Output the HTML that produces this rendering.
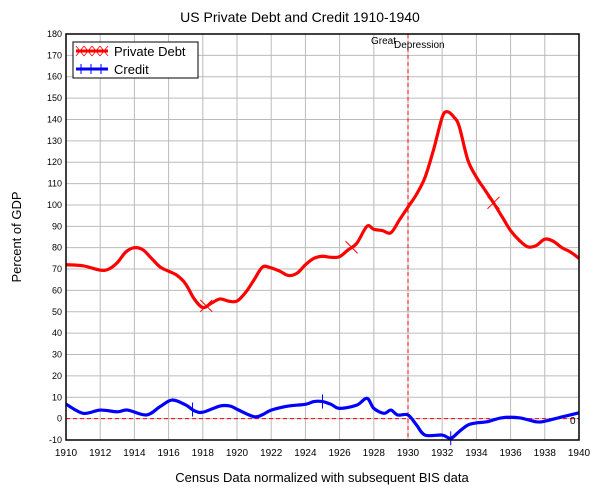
<!DOCTYPE html>
<html><head><meta charset="utf-8"><style>
body{margin:0;background:#fff;font-family:"Liberation Sans",sans-serif}
svg text{font-family:"Liberation Sans",sans-serif}
</style></head><body>
<svg id="chart" width="602" height="487" xmlns="http://www.w3.org/2000/svg">
<text x="300" y="22" text-anchor="middle" font-size="14">US Private Debt and Credit 1910-1940</text>
<text transform="translate(21,237) rotate(-90)" text-anchor="middle" font-size="13">Percent of GDP</text>
<text x="322" y="482" text-anchor="middle" font-size="13">Census Data normalized with subsequent BIS data</text>
<g id="grid"></g>
<g id="ticks"></g>
<g id="series"></g>
<text x="371" y="44" font-size="10">Great</text>
<text x="394" y="48" font-size="10">Depression</text>
<text x="570" y="424" font-size="10">0</text>
<rect x="66" y="34" width="513" height="406" fill="none" stroke="#000" stroke-width="1.5"/>
<g>
<rect x="73" y="42" width="125" height="36" fill="#fff" stroke="#000"/>
<g>
<line x1="76" y1="51" x2="108" y2="51" stroke="#f00" stroke-width="3"/>
<path d="M76,46l8,10M84,46l-8,10M84,46l8,10M92,46l-8,10M92,46l8,10M100,46l-8,10M100,46l8,10M108,46l-8,10" stroke="#f00" stroke-width="0.8"/>
<text x="114" y="56" font-size="13">Private Debt</text></g>
<g>
<line x1="76" y1="69" x2="108" y2="69" stroke="#00f" stroke-width="3"/>
<path d="M81,64v10M91,64v10M101,64v10" stroke="#00f" stroke-width="1"/>
<text x="114" y="74" font-size="13">Credit</text></g>
</g>
</svg>
<script>
const debtYears=[1910,1911,1912,1912.5,1913,1913.5,1914,1914.5,1915,1915.5,1916,1916.5,1917,1917.5,1918,1918.5,1919,1919.5,1920,1920.5,1921,1921.5,1922,1922.5,1923,1923.5,1924,1924.5,1925,1925.5,1926,1926.5,1927,1927.6,1928,1928.5,1929,1929.5,1930,1930.5,1931,1931.5,1932,1932.3,1932.7,1933,1933.5,1934,1934.5,1935,1935.5,1936,1936.5,1937,1937.5,1938,1938.5,1939,1939.5,1940];
const debtValues=[72,71.5,69.5,70,73,78,80,79,75,71,69,67,63,56,52,54,56,55,55,59,65,71,70.5,69,67,68,72,75,76,75.5,75.8,79,82,90,88.6,88,87,93,99,105,113,126,141,143.6,141,136.6,121,113,107,101,94.5,88,83.5,80.4,81,84,83,80,78,75];
const creditYears=[1910,1911,1912,1913,1913.6,1914.7,1915.5,1916.2,1917,1917.5,1918,1919,1919.6,1920,1921,1921.5,1922,1923,1924,1924.5,1925,1925.5,1926,1927,1927.6,1928,1928.6,1929,1929.4,1930,1930.5,1931,1932,1932.5,1933,1933.5,1934,1934.6,1935.5,1936.5,1937.5,1938,1939,1940];
const creditValues=[6.8,2.5,4,3.2,4,1.7,5.6,8.7,6.4,3.7,3,5.9,5.9,4.4,0.9,1.9,4,5.9,6.7,8,8,6.7,4.8,6.3,9.5,4.8,2.5,4,1.7,1.7,-3,-7.7,-7.7,-9.2,-6,-3,-2,-1.5,0.4,0.4,-1.5,-1.2,0.8,2.7];
const debtMarkers=[1918.2,1926.7,1935];
const creditMarkers=[1917.4,1925,1932.5];
const xTicks=[1910,1912,1914,1916,1918,1920,1922,1924,1926,1928,1930,1932,1934,1936,1938,1940];
const yTicks=[-10,0,10,20,30,40,50,60,70,80,90,100,110,120,130,140,150,160,170,180];
const eventYear=1930;
const NS="http://www.w3.org/2000/svg";
const X=y=>66+(y-1910)*513/30;
const Y=v=>440-(v+10)*406/190;
function mk(tag,attrs,parent){const e=document.createElementNS(NS,tag);for(const k in attrs)e.setAttribute(k,attrs[k]);parent.appendChild(e);return e;}
function interp(xs,vs,x){for(let i=0;i<xs.length-1;i++){if(x>=xs[i]&&x<=xs[i+1]){const t=(x-xs[i])/(xs[i+1]-xs[i]);return vs[i]+t*(vs[i+1]-vs[i]);}}return vs[vs.length-1];}
function smooth(xs,vs){
 const p=xs.map((x,i)=>[X(x),Y(vs[i])]);
 let d='M'+p[0][0]+','+p[0][1];
 for(let i=0;i<p.length-1;i++){
  const p0=p[i-1]||p[i],p1=p[i],p2=p[i+1],p3=p[i+2]||p2;
  const c1=[p1[0]+(p2[0]-p0[0])/6,p1[1]+(p2[1]-p0[1])/6];
  const c2=[p2[0]-(p3[0]-p1[0])/6,p2[1]-(p3[1]-p1[1])/6];
  d+=`C${c1[0]},${c1[1]} ${c2[0]},${c2[1]} ${p2[0]},${p2[1]}`;
 }
 return d;
}
const grid=document.getElementById('grid'),ticks=document.getElementById('ticks'),series=document.getElementById('series');
xTicks.forEach(t=>{
 const l=mk('line',{x1:X(t),x2:X(t),y1:34,y2:440,stroke:'#bbb','stroke-width':1},grid);
 
 
 const tx=mk('text',{x:X(t),y:456,'text-anchor':'middle','font-size':10},ticks);
 tx.textContent=t;
 
 
});
yTicks.forEach(t=>{
 const l=mk('line',{x1:66,x2:579,y1:Y(t),y2:Y(t),stroke:'#bbb','stroke-width':1},grid);
 
 
 const tx=mk('text',{x:62,y:Y(t)+3,'text-anchor':'end','font-size':9},ticks);
 tx.textContent=t;
 
 
});
const zl=mk('line',{x1:66,x2:579,y1:Y(0),y2:Y(0),stroke:'#f00','stroke-width':1,'stroke-dasharray':'4,3'},series);


const ev=mk('line',{x1:X(eventYear),x2:X(eventYear),y1:34,y2:440,stroke:'#f00','stroke-width':1,'stroke-dasharray':'4,3'},series);


const dp=mk('path',{d:smooth(debtYears,debtValues),fill:'none',stroke:'#f00','stroke-width':3.2,'stroke-linejoin':'round'},series);


const cp=mk('path',{d:smooth(creditYears,creditValues),fill:'none',stroke:'#00f','stroke-width':3.2,'stroke-linejoin':'round'},series);


debtMarkers.forEach(m=>{
 const cx=X(m),cy=Y(interp(debtYears,debtValues,m));
 const p=mk('path',{d:`M${cx-6},${cy-6}L${cx+6},${cy+6}M${cx+6},${cy-6}L${cx-6},${cy+6}`,stroke:'#f00','stroke-width':1},series);
 
 
});
creditMarkers.forEach(m=>{
 const cx=X(m),cy=Y(interp(creditYears,creditValues,m));
 const p=mk('path',{d:`M${cx},${cy-7}V${cy+7}`,stroke:'#00f','stroke-width':1},series);
 
 
});
</script>
</body></html>
